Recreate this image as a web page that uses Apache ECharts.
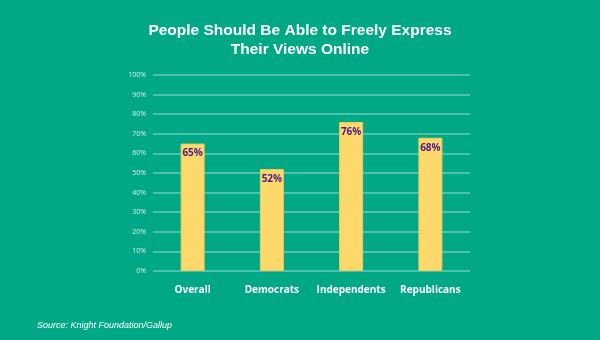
<!DOCTYPE html>
<html><head><meta charset="utf-8">
<script src="https://cdn.jsdelivr.net/npm/echarts@6/dist/echarts.min.js"></script>
<style>html,body{margin:0;padding:0;background:#00A886;}#c{width:600px;height:340px;}</style>
</head><body><div id="c"></div>
<script>
var categories = ["Overall", "Democrats", "Independents", "Republicans"];
var values = [65, 52, 76, 68];
var yTicks = [0, 10, 20, 30, 40, 50, 60, 70, 80, 90, 100];

var chart = echarts.init(document.getElementById('c'), null, {renderer: 'canvas'});
chart.setOption({
  backgroundColor: '#00A886',
  animation: false,
  title: [{
    text: 'People Should Be Able to Freely Express\nTheir Views Online',
    left: 'center', top: 16,
    textStyle: {color: '#ffffff', fontFamily: 'Liberation Sans, Arial, sans-serif', fontWeight: 'bold', fontSize: 15.5, lineHeight: 19}
  }, {
    text: 'Source: Knight Foundation/Gallup',
    left: 32, top: 316,
    textStyle: {color: '#ffffff', fontFamily: 'Liberation Sans, Arial, sans-serif', fontStyle: 'italic', fontWeight: 'normal', fontSize: 9}
  }],
  grid: {left: 153, right: 130, top: 75, bottom: 69, containLabel: false},
  xAxis: {
    type: 'category', data: categories,
    axisLine: {show: false}, axisTick: {show: false},
    axisLabel: {interval: 0, color: '#ffffff', fontFamily: 'Open Sans, sans-serif', fontWeight: 'bold', fontSize: 10, margin: 14}
  },
  yAxis: {
    type: 'value', min: 0, max: 100, interval: 10,
    axisLine: {show: false}, axisTick: {show: false},
    splitLine: {lineStyle: {color: 'rgba(255,255,255,0.4)', width: 1.5}},
    axisLabel: {color: '#d6f1ea', fontFamily: 'Open Sans, sans-serif', fontSize: 7, margin: 7, formatter: function(v){return v + '%';}}
  },
  series: [{
    type: 'bar', data: values, barWidth: 24,
    itemStyle: {color: '#FDD96B', borderColor: '#F2C95A', borderWidth: 1},
    label: {show: true, position: 'insideTop', distance: 5, color: '#4A1C8A', fontFamily: 'Open Sans, sans-serif', fontWeight: 'bold', fontSize: 10, formatter: '{c}%'}
  }]
});
</script></body></html>
